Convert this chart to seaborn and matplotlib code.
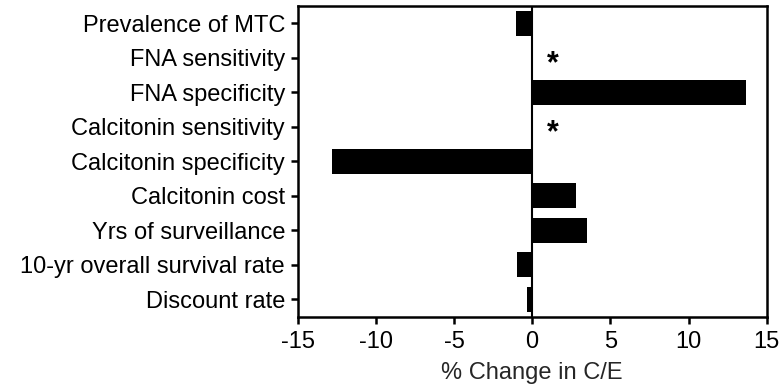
import matplotlib
matplotlib.use("Agg")
import matplotlib.pyplot as plt
import seaborn as sns
import pandas as pd

categories = [
    "Prevalence of MTC",
    "FNA sensitivity",
    "FNA specificity",
    "Calcitonin sensitivity",
    "Calcitonin specificity",
    "Calcitonin cost",
    "Yrs of surveillance",
    "10-yr overall survival rate",
    "Discount rate",
]
pct_change = [-1.0, 0.0, 13.7, 0.0, -12.8, 2.8, 3.5, -0.95, -0.35]
starred = ["FNA sensitivity", "Calcitonin sensitivity"]
xticks = [-15, -10, -5, 0, 5, 10, 15]

df = pd.DataFrame({"param": categories, "change": pct_change})

sns.set_style("ticks")
plt.rcParams["font.family"] = ["Liberation Sans", "DejaVu Sans"]

fig = plt.figure(figsize=(7.81, 3.89), dpi=100)
ax = fig.add_axes([0.381, 0.186, 0.6007, 0.7986])

sns.barplot(data=df, y="param", x="change", order=categories, orient="h",
            color="black", width=0.72, ax=ax, saturation=1, linewidth=0)

ax.axvline(0, color="black", linewidth=1.5, zorder=3)

for name in starred:
    ax.text(1.3, categories.index(name) + 0.18, "*", ha="center", va="center",
            fontsize=22, fontweight="bold", color="black")

ax.set_xlim(-15, 15)
ax.set_ylim(8.5, -0.5)
ax.set_xticks(xticks)
ax.set_xticklabels([str(t) for t in xticks])
ax.set_xlabel("% Change in C/E", fontsize=17, labelpad=7)
ax.set_ylabel("")

for sp in ax.spines.values():
    sp.set_visible(True)
    sp.set_linewidth(1.8)
    sp.set_color("black")

ax.tick_params(axis="both", direction="out", length=5, width=1.8, colors="black",
               labelsize=17)
ax.tick_params(axis="y", pad=4)
ax.tick_params(axis="x", pad=5)

fig.savefig("out.png", dpi=100)
